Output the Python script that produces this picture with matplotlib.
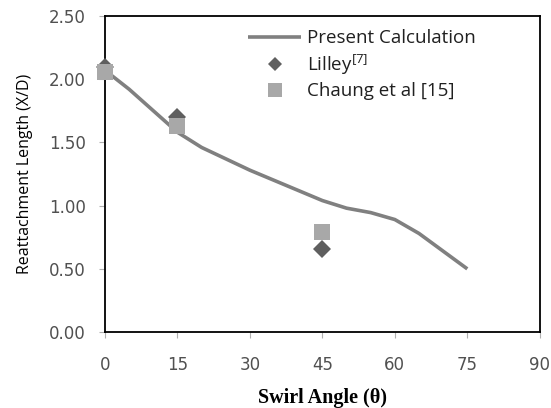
import matplotlib
matplotlib.use("Agg")
import matplotlib.pyplot as plt

# present calculation (smooth curve)
calc_angle = [0, 5, 10, 15, 20, 25, 30, 35, 40, 45, 50, 55, 60, 65, 70, 75]
calc_len = [2.07, 1.92, 1.75, 1.58, 1.46, 1.37, 1.28, 1.20, 1.12, 1.04,
            0.98, 0.945, 0.89, 0.78, 0.64, 0.50]

# experimental points
lilley_angle = [0, 15, 45]
lilley_len = [2.10, 1.70, 0.66]
chaung_angle = [0, 15, 45]
chaung_len = [2.06, 1.63, 0.79]

xticks = [0, 15, 30, 45, 60, 75, 90]
yticks = [0.0, 0.5, 1.0, 1.5, 2.0, 2.5]

fig = plt.figure(figsize=(5.51, 4.08), dpi=100)
ax = fig.add_axes([0.1906, 0.186, 0.789, 0.775])

ax.plot(calc_angle, calc_len, color='#808080', lw=2.6, label='Present Calculation',
        solid_capstyle='butt', solid_joinstyle='round')
ax.plot(lilley_angle, lilley_len, 'D', color='#5f5f5f', ms=9.5, mew=0,
        label='Lilley$^{\\mathregular{[7]}}$', clip_on=False, zorder=3)
ax.plot(chaung_angle, chaung_len, 's', color='#a8a8a8', ms=12, mew=0,
        label='Chaung et al [15]', clip_on=False, zorder=4)

ax.set_xlim(0, 90)
ax.set_ylim(0, 2.5)
ax.set_xticks(xticks)
ax.set_yticks(yticks)
ax.set_yticklabels(['%.2f' % v for v in yticks])

for s in ax.spines.values():
    s.set_color('black')
    s.set_linewidth(1.3)
ax.tick_params(direction='out', length=4, width=0.8, color='#b0b0b0',
               labelcolor='#505050', labelsize=12)
ax.tick_params(axis='x', pad=13)
ax.tick_params(axis='y', pad=10)
for t in ax.get_xticklabels() + ax.get_yticklabels():
    t.set_family('DejaVu Sans')

ax.set_xlabel('Swirl Angle (\u03b8)', family='Liberation Serif', fontweight='bold',
              fontsize=14.5, labelpad=10)
ax.set_ylabel('Reattachment Length (X/D)', family='Open Sans', fontsize=11.5,
              labelpad=11)

leg = ax.legend(loc='upper left', bbox_to_anchor=(0.33, 0.958), frameon=False,
                prop={'family': 'Open Sans', 'size': 13.5}, handlelength=2.8,
                handletextpad=0.3, labelspacing=0.27, borderaxespad=0,
                borderpad=0, markerscale=0.8)
for t in leg.get_texts():
    t.set_color('#202020')

fig.savefig('out.png', dpi=100)
